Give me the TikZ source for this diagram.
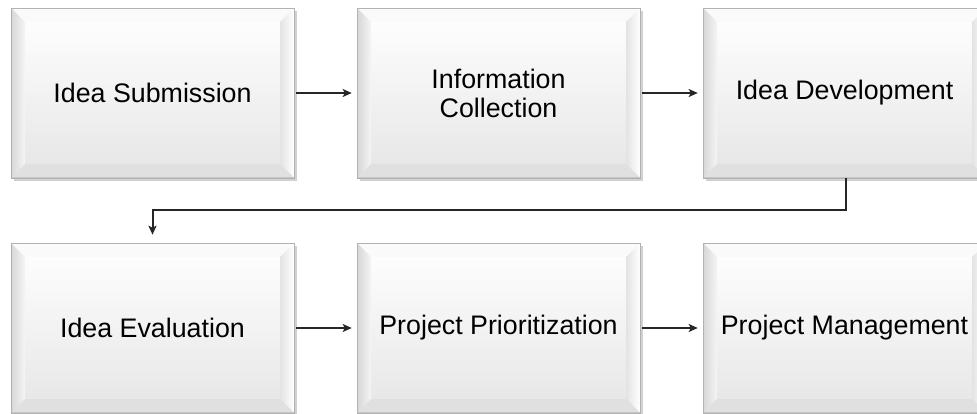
\documentclass[tikz,border=0pt]{standalone}
\usepackage{fontspec}
\setmainfont{Liberation Sans}
\usetikzlibrary{calc, shadows, arrows.meta}

\tikzset{
	stagebox/.style={draw=gray!60, line width=0.6pt, minimum width=283pt, minimum height=170pt,
		inner sep=0pt, align=center, font=\fontsize{26.8}{29}\selectfont,
		top color=white, middle color=gray!3, bottom color=gray!20,
		drop shadow={shadow xshift=2.5pt, shadow yshift=-3pt, opacity=0.45, fill=gray!80},
		path picture={
			\coordinate (pnw) at (path picture bounding box.north west);
			\coordinate (pne) at (path picture bounding box.north east);
			\coordinate (psw) at (path picture bounding box.south west);
			\coordinate (pse) at (path picture bounding box.south east);
			\coordinate (inw) at ($(pnw)+(14,-14)$);
			\coordinate (ine) at ($(pne)+(-14,-14)$);
			\coordinate (isw) at ($(psw)+(14,14)$);
			\coordinate (ise) at ($(pse)+(-14,14)$);
			% bevel faces
			\fill[gray!4] (pnw) -- (pne) -- (ine) -- (inw) -- cycle;
			\shade[left color=gray!32, right color=gray!8] (pnw) -- (inw) -- (isw) -- (psw) -- cycle;
			\shade[left color=gray!22, right color=white] (pne) -- (pse) -- (ise) -- (ine) -- cycle;
			\fill[gray!24] (psw) -- (isw) -- (ise) -- (pse) -- cycle;
			\draw[gray!45, line width=1.5pt] (psw) -- (pse);
		}},
	flowarrow/.style={draw=black!85, line width=2pt, -{Stealth[length=9pt, width=8pt, inset=2pt]}}
}

\begin{document}
\begin{tikzpicture}[x=1pt, y=1pt]
		\clip (0,0) rectangle (977,413);

		% Draw the upper row of stages
		\node[stagebox] (idea) at (152.5,320) {Idea Submission};
		\node[stagebox] (info) at (498.5,320) {Information\\Collection};
		\node[stagebox] (develop) at (844.5,320) {Idea Development};

		% Draw the lower row of stages
		\node[stagebox] (evaluate) at (152.5,85) {Idea Evaluation};
		\node[stagebox] (prior) at (498.5,85) {Project Prioritization};
		\node[stagebox] (manage) at (844.5,85) {Project Management};

		% Draw the arrows between the stages
		\draw[flowarrow, shorten <=1.5pt, shorten >=5pt] (idea) -- (info);
		\draw[flowarrow, shorten <=1.5pt, shorten >=5pt] (info) -- (develop);
		\draw[flowarrow, shorten <=0pt, shorten >=8pt] ([xshift=1.5pt]develop.south) -- ++(0,-32) -| (evaluate.north);
		\draw[flowarrow, shorten <=1.5pt, shorten >=5pt] (evaluate) -- (prior);
		\draw[flowarrow, shorten <=1.5pt, shorten >=5pt] (prior) -- (manage);

	\end{tikzpicture}
\end{document}
